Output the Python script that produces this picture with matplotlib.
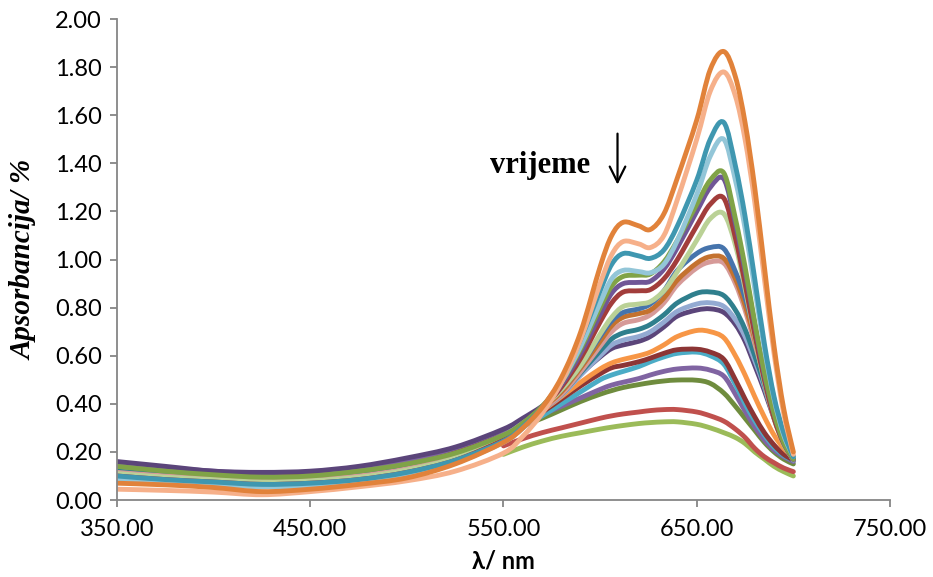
import matplotlib
matplotlib.use("Agg")
import matplotlib.pyplot as plt
from matplotlib.path import Path
from matplotlib.patches import PathPatch
from matplotlib.ticker import FormatStrFormatter

# valne duljine (nm)
valna = [350, 375, 400, 425, 450, 475, 500, 525, 550, 560, 570, 580, 590, 600, 606,
         612, 620, 626, 633, 640, 650, 657, 664, 670, 675, 680, 685, 690, 695, 700]
valna_kratka = [550, 560, 570, 580, 590, 600, 606, 612, 620, 626, 633, 640, 650, 657,
                664, 670, 675, 680, 685, 690, 695, 700]

# apsorbancije, od najvise krivulje prema najnizoj
s01 = [0.070, 0.063, 0.052, 0.035, 0.045, 0.065, 0.092, 0.150, 0.240, 0.300, 0.385, 0.510, 0.700, 0.970, 1.100,
       1.155, 1.140, 1.125, 1.190, 1.340, 1.580, 1.790, 1.865, 1.760, 1.570, 1.300, 0.970, 0.640, 0.380, 0.200]
s02 = [0.045, 0.040, 0.033, 0.022, 0.035, 0.055, 0.080, 0.120, 0.195, 0.265, 0.360, 0.490, 0.670, 0.900, 1.020,
       1.075, 1.065, 1.050, 1.100, 1.250, 1.500, 1.700, 1.780, 1.680, 1.500, 1.240, 0.920, 0.610, 0.360, 0.190]
s03 = [0.100, 0.085, 0.075, 0.065, 0.070, 0.085, 0.115, 0.165, 0.245, 0.305, 0.385, 0.500, 0.670, 0.870, 0.980,
       1.025, 1.015, 1.005, 1.040, 1.140, 1.330, 1.500, 1.570, 1.390, 1.180, 0.920, 0.650, 0.430, 0.280, 0.180]
s04 = [0.090, 0.075, 0.065, 0.055, 0.060, 0.075, 0.105, 0.155, 0.240, 0.300, 0.380, 0.490, 0.640, 0.820, 0.920,
       0.955, 0.950, 0.945, 0.980, 1.080, 1.270, 1.430, 1.500, 1.330, 1.130, 0.880, 0.630, 0.420, 0.270, 0.180]
s05 = [0.140, 0.120, 0.105, 0.095, 0.100, 0.120, 0.150, 0.195, 0.270, 0.320, 0.390, 0.490, 0.630, 0.800, 0.890,
       0.930, 0.935, 0.940, 0.990, 1.080, 1.230, 1.330, 1.360, 1.170, 0.970, 0.740, 0.530, 0.360, 0.240, 0.170]
s06 = [0.095, 0.080, 0.070, 0.060, 0.065, 0.080, 0.110, 0.160, 0.245, 0.300, 0.380, 0.480, 0.610, 0.770, 0.860,
       0.900, 0.905, 0.910, 0.960, 1.050, 1.200, 1.300, 1.335, 1.150, 0.950, 0.730, 0.520, 0.360, 0.240, 0.170]
s07 = [0.100, 0.085, 0.075, 0.065, 0.070, 0.085, 0.115, 0.165, 0.250, 0.305, 0.380, 0.470, 0.590, 0.740, 0.820,
       0.865, 0.870, 0.875, 0.920, 1.000, 1.140, 1.230, 1.255, 1.090, 0.900, 0.690, 0.500, 0.340, 0.235, 0.170]
s08 = [0.110, 0.095, 0.085, 0.075, 0.080, 0.095, 0.125, 0.175, 0.260, 0.310, 0.380, 0.460, 0.560, 0.690, 0.760,
       0.805, 0.815, 0.825, 0.870, 0.950, 1.080, 1.170, 1.190, 1.060, 0.880, 0.680, 0.490, 0.340, 0.230, 0.170]
s09 = [0.105, 0.090, 0.080, 0.070, 0.075, 0.090, 0.120, 0.170, 0.255, 0.310, 0.385, 0.460, 0.560, 0.680, 0.745,
       0.780, 0.795, 0.815, 0.870, 0.955, 1.025, 1.050, 1.045, 0.950, 0.840, 0.700, 0.540, 0.380, 0.255, 0.170]
s10 = [0.100, 0.085, 0.075, 0.065, 0.070, 0.085, 0.115, 0.165, 0.250, 0.305, 0.380, 0.450, 0.550, 0.660, 0.725,
       0.760, 0.775, 0.790, 0.840, 0.915, 0.985, 1.012, 1.005, 0.920, 0.810, 0.670, 0.520, 0.370, 0.250, 0.170]
s11 = [0.115, 0.100, 0.090, 0.080, 0.085, 0.100, 0.130, 0.180, 0.260, 0.310, 0.375, 0.440, 0.535, 0.640, 0.700,
       0.735, 0.750, 0.770, 0.820, 0.895, 0.965, 0.990, 0.985, 0.900, 0.790, 0.650, 0.510, 0.365, 0.250, 0.170]
s12 = [0.120, 0.105, 0.095, 0.085, 0.090, 0.105, 0.135, 0.185, 0.265, 0.315, 0.375, 0.440, 0.530, 0.620, 0.670,
       0.695, 0.710, 0.730, 0.770, 0.820, 0.860, 0.865, 0.850, 0.790, 0.710, 0.600, 0.480, 0.350, 0.245, 0.170]
s13 = [0.125, 0.110, 0.100, 0.090, 0.095, 0.110, 0.140, 0.190, 0.270, 0.320, 0.375, 0.435, 0.520, 0.600, 0.645,
       0.665, 0.680, 0.700, 0.740, 0.785, 0.815, 0.820, 0.805, 0.750, 0.680, 0.580, 0.470, 0.345, 0.240, 0.165]
s14 = [0.160, 0.140, 0.120, 0.115, 0.120, 0.140, 0.175, 0.220, 0.295, 0.340, 0.390, 0.450, 0.525, 0.595, 0.630,
       0.645, 0.660, 0.680, 0.720, 0.765, 0.790, 0.795, 0.780, 0.730, 0.660, 0.560, 0.455, 0.340, 0.235, 0.165]
s15 = [0.120, 0.105, 0.095, 0.085, 0.090, 0.105, 0.135, 0.185, 0.265, 0.310, 0.370, 0.430, 0.490, 0.545, 0.570,
       0.585, 0.600, 0.615, 0.645, 0.680, 0.705, 0.700, 0.675, 0.600, 0.520, 0.430, 0.345, 0.270, 0.215, 0.180]
s16 = [0.135, 0.115, 0.105, 0.095, 0.100, 0.115, 0.145, 0.195, 0.270, 0.315, 0.365, 0.420, 0.475, 0.525, 0.550,
       0.560, 0.575, 0.590, 0.610, 0.625, 0.627, 0.615, 0.585, 0.500, 0.420, 0.346, 0.280, 0.229, 0.190, 0.166]
s17 = [0.130, 0.110, 0.100, 0.090, 0.095, 0.110, 0.140, 0.190, 0.265, 0.305, 0.350, 0.400, 0.450, 0.500, 0.520,
       0.535, 0.555, 0.575, 0.595, 0.610, 0.615, 0.600, 0.565, 0.480, 0.400, 0.330, 0.270, 0.220, 0.185, 0.165]
s18 = [0.155, 0.135, 0.120, 0.110, 0.115, 0.130, 0.165, 0.215, 0.285, 0.320, 0.355, 0.390, 0.425, 0.460, 0.478,
       0.490, 0.505, 0.520, 0.535, 0.545, 0.549, 0.540, 0.515, 0.440, 0.370, 0.305, 0.250, 0.208, 0.180, 0.160]
s19 = [0.145, 0.125, 0.110, 0.100, 0.105, 0.120, 0.155, 0.205, 0.280, 0.310, 0.340, 0.375, 0.410, 0.440, 0.455,
       0.468, 0.480, 0.488, 0.495, 0.499, 0.498, 0.485, 0.445, 0.390, 0.340, 0.290, 0.240, 0.200, 0.170, 0.150]
s20 = [0.225, 0.255, 0.280, 0.300, 0.320, 0.340, 0.350, 0.358, 0.366, 0.372, 0.376, 0.376, 0.366, 0.350,
       0.328, 0.295, 0.260, 0.215, 0.180, 0.155, 0.133, 0.118]
s21 = [0.190, 0.220, 0.245, 0.265, 0.280, 0.295, 0.303, 0.310, 0.318, 0.322, 0.325, 0.325, 0.315, 0.300,
       0.280, 0.260, 0.235, 0.200, 0.170, 0.140, 0.118, 0.100]

x_oznake = [350, 450, 550, 650, 750]
y_oznake = [0.0, 0.2, 0.4, 0.6, 0.8, 1.0, 1.2, 1.4, 1.6, 1.8, 2.0]

serije = [s01, s02, s03, s04, s05, s06, s07, s08, s09, s10, s11, s12, s13, s14, s15, s16, s17, s18, s19]
boje = ['#E1823A', '#F6B08A', '#3F97B0', '#93C6D8', '#80A347', '#705696', '#A23D3B', '#BAD196',
        '#4674AC', '#C4722F', '#D69A98', '#2F7F8D', '#93AAD2', '#5B457A', '#F79646', '#8C3535',
        '#4BACC6', '#8064A2', '#6F8C3E']


def glatka_linija(x, y):
    # zagladena linija kao u Excelu (Catmull-Rom preko Bezierovih krivulja)
    t = list(zip(x, y))
    n = len(t)
    verts = [t[0]]
    codes = [Path.MOVETO]
    for i in range(n - 1):
        p0 = t[i - 1] if i > 0 else t[i]
        p1 = t[i]
        p2 = t[i + 1]
        p3 = t[i + 2] if i + 2 < n else t[i + 1]
        c1 = (p1[0] + (p2[0] - p0[0]) / 6, p1[1] + (p2[1] - p0[1]) / 6)
        c2 = (p2[0] - (p3[0] - p1[0]) / 6, p2[1] - (p3[1] - p1[1]) / 6)
        verts += [c1, c2, p2]
        codes += [Path.CURVE4] * 3
    return Path(verts, codes)


plt.rcParams['font.family'] = ['Lato', 'DejaVu Sans']

fig = plt.figure(figsize=(9.33, 5.77), dpi=100)
ax = fig.add_axes([0.1254, 0.1334, 0.8285, 0.8336])

lw = 3.5
crtaj = [(valna_kratka, s21, '#9BBB59'), (valna_kratka, s20, '#C0504D')]
for s, c in reversed(list(zip(serije, boje))):
    crtaj.append((valna, s, c))
for x, y, c in crtaj:
    ax.add_patch(PathPatch(glatka_linija(x, y), fill=False, edgecolor=c, lw=lw,
                           joinstyle='round', capstyle='round'))

ax.set_xlim(350, 750)
ax.set_ylim(0, 2.0)
ax.set_xticks(x_oznake)
ax.set_yticks(y_oznake)
ax.xaxis.set_major_formatter(FormatStrFormatter('%.2f'))
ax.yaxis.set_major_formatter(FormatStrFormatter('%.2f'))

for sp in ['top', 'right']:
    ax.spines[sp].set_visible(False)
for sp in ['left', 'bottom']:
    ax.spines[sp].set_color('#868686')
    ax.spines[sp].set_linewidth(1.3)
ax.tick_params(axis='both', direction='out', length=5, width=1.3, color='#868686',
               labelsize=17, labelcolor='black')
ax.tick_params(axis='x', pad=9)
ax.tick_params(axis='y', pad=6)

ax.set_xlabel('λ/ nm', fontsize=17, fontweight='bold', va='center')
ax.xaxis.set_label_coords(0.5, -0.127)
ax.set_ylabel('Apsorbancija/ %', fontsize=21, fontweight='bold', fontstyle='italic',
              family='Liberation Serif')
ax.yaxis.set_label_coords(-0.103, 0.5)

ax.text(543, 1.36, 'vrijeme', fontsize=22, fontweight='bold', family='Liberation Serif',
        ha='left', va='baseline')
ax.annotate('', xy=(609, 1.30), xytext=(609, 1.535),
            arrowprops=dict(arrowstyle='->', color='black', lw=1.6, mutation_scale=28))

fig.savefig('out.png', dpi=100)
